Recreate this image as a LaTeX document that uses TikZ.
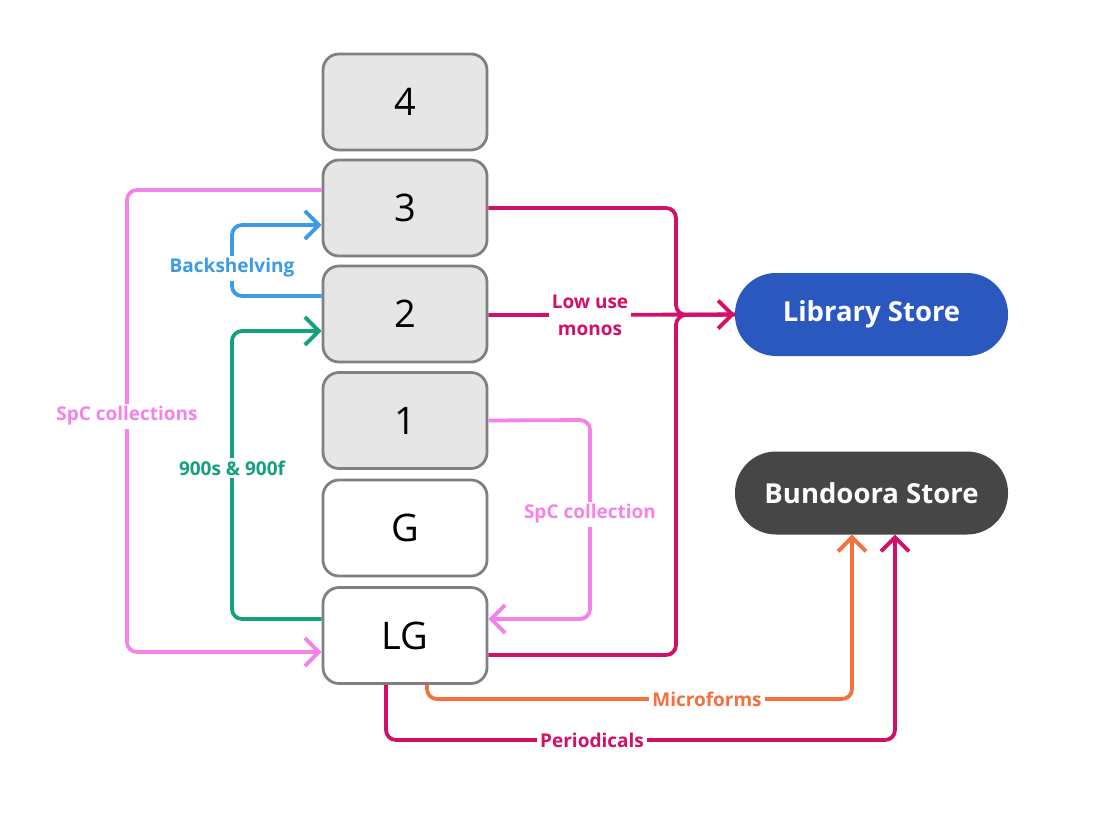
\documentclass[tikz,border=0pt]{standalone}
\usepackage{fontspec}
\setmainfont{Open Sans}
\usetikzlibrary{arrows.meta}
\definecolor{pinkl}{HTML}{F582EB}
\definecolor{blueb}{HTML}{3B9BE6}
\definecolor{greenc}{HTML}{13A07F}
\definecolor{magc}{HTML}{D2106A}
\definecolor{orac}{HTML}{F4703F}
\definecolor{libblue}{HTML}{2B58BE}
\definecolor{darkst}{HTML}{464646}
\definecolor{boxfill}{HTML}{E6E6E6}
\definecolor{boxline}{HTML}{808080}
\tikzset{
  floor/.style={draw=boxline, line width=2.8pt, rounded corners=16pt, minimum width=164pt, minimum height=96pt, font=\fontsize{38}{40}\selectfont, inner sep=0pt},
  grey/.style={fill=boxfill},
  store/.style={rounded corners=41pt, minimum width=273pt, minimum height=83pt, text=white, font=\bfseries\fontsize{27.5}{32}\selectfont, inner sep=0pt},
  conn/.style={line width=3.8pt, rounded corners=10pt},
  tip/.style={-{Straight Barb[length=14pt,width=28pt,line width=3.8pt]}},
  lbl/.style={fill=white, font=\bfseries\fontsize{19}{23}\selectfont, inner sep=3pt, align=center}
}
\begin{document}
\begin{tikzpicture}[x=1pt,y=-1pt]
\useasboundingbox (0,0) rectangle (1100,824);
\node[floor,grey] (f4) at (405,102) {4};
\node[floor,grey] (f3) at (405,208) {3};
\node[floor,grey] (f2) at (405,314) {2};
\node[floor,grey] (f1) at (405,420.5) {1};
\node[floor,fill=white] (fG) at (405,528) {G};
\node[floor,fill=white] (fLG) at (405,635.5) {LG};
\node[store,fill=libblue] (lib) at (871.5,314.5) {Library Store};
\node[store,fill=darkst] (bun) at (871.5,493) {Bundoora Store};
\coordinate (j) at (676,315);
% SpC collections (big pink)
\draw[conn,pinkl,tip] ([yshift=18pt]f3.west) -- (127,190) -- (127,652) -- ([yshift=-16.5pt]fLG.west);
\node[lbl,text=pinkl] (spcs) at (127,416) {SpC collections};
% Backshelving
\draw[conn,blueb,tip] ([yshift=18pt]f2.west) -- (232,296) -- (232,225) -- ([yshift=-17pt]f3.west);
\node[lbl,text=blueb] (bs) at (232,268) {Backshelving};
% 900s & 900f
\draw[conn,greenc,tip] ([yshift=16.5pt]fLG.west) -- (232,619) -- (232,331) -- ([yshift=-17pt]f2.west);
\node[lbl,text=greenc] (n900) at (232,468) {900s \& 900f};
% magenta to Library Store
\draw[conn,magc] (f3.east) -- (676,208) -- (j) -- (lib.west);
\draw[conn,magc] ([yshift=-19.5pt]fLG.east) -- (676,655) -- (j) -- (lib.west);
\draw[conn,magc,tip] ([yshift=-1pt]f2.east) -- (lib.west);
\node[lbl,text=magc,font=\bfseries\fontsize{19}{27}\selectfont] (lum) at (590,315) {Low use\\monos};
% SpC collection (small pink)
\draw[conn,pinkl,tip] (f1.east) -- (590,420) -- (590,619) -- ([yshift=16.5pt]fLG.east);
\node[lbl,text=pinkl] (spc) at (590,514) {SpC collection};
% Microforms
\draw[conn,orac,tip] ([xshift=22pt]fLG.south) -- (427,699) -- (852,699) -- ([xshift=-19.5pt]bun.south);
\node[lbl,text=orac] (mf) at (707,699) {Microforms};
% Periodicals
\draw[conn,magc,tip] ([xshift=-19pt]fLG.south) -- (386,740) -- (895,740) -- ([xshift=23.5pt]bun.south);
\node[lbl,text=magc] (per) at (592,740) {Periodicals};
\end{tikzpicture}
\end{document}
